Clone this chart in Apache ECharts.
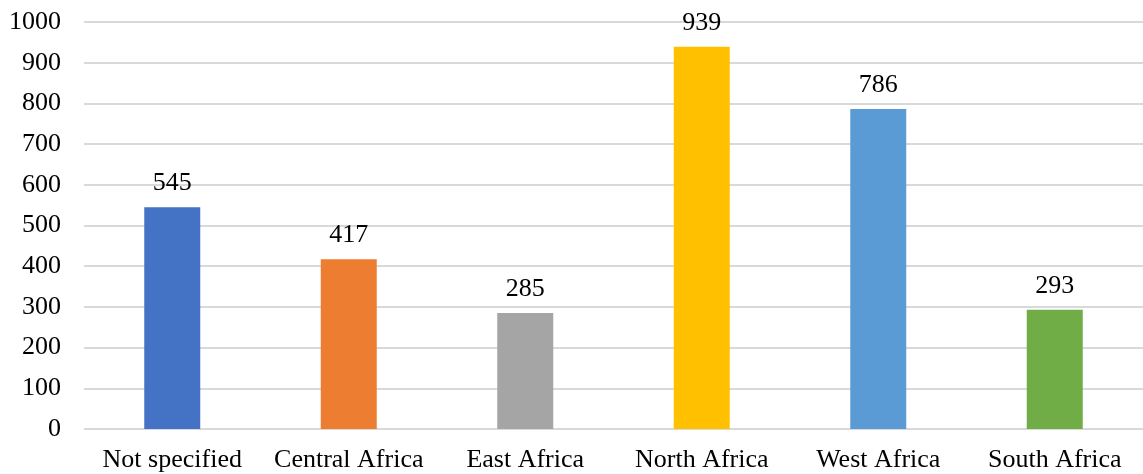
<!DOCTYPE html>
<html>
<head>
<meta charset="utf-8">
<script src="https://cdn.jsdelivr.net/npm/echarts@6/dist/echarts.min.js"></script>
<style>
  html, body { margin: 0; padding: 0; background: #fff; }
  #main { width: 1143px; height: 474px; }
</style>
</head>
<body>
<div id="main"></div>
<script>
// chart data
const regions = ['Not specified', 'Central Africa', 'East Africa', 'North Africa', 'West Africa', 'South Africa'];
const counts = [545, 417, 285, 939, 786, 293];
const barColors = ['#4472C4', '#ED7D31', '#A5A5A5', '#FFC000', '#5B9BD5', '#70AD47'];

const font = '"Liberation Serif", "Times New Roman", serif';
const chart = echarts.init(document.getElementById('main'));

chart.setOption({
  animation: false,
  textStyle: { fontFamily: font },
  grid: { left: 84, right: 0, top: 22, bottom: 45 },
  xAxis: {
    type: 'category',
    data: regions,
    axisLine: { show: false },
    axisTick: { show: false },
    axisLabel: { color: '#000', fontSize: 26, fontFamily: font, margin: 18, interval: 0 }
  },
  yAxis: {
    type: 'value',
    min: 0,
    max: 1000,
    interval: 100,
    axisLine: { show: false },
    axisTick: { show: false },
    axisLabel: { color: '#000', fontSize: 26, fontFamily: font, margin: 23, formatter: v => String(v) },
    splitLine: { lineStyle: { color: '#D9D9D9', width: 2 } }
  },
  series: [{
    type: 'bar',
    barWidth: 56,
    data: counts.map((v, i) => ({ value: v, itemStyle: { color: barColors[i] } })),
    label: {
      show: true,
      position: 'top',
      distance: 11,
      color: '#000',
      fontSize: 26,
      fontFamily: font
    }
  }]
});
</script>
</body>
</html>
